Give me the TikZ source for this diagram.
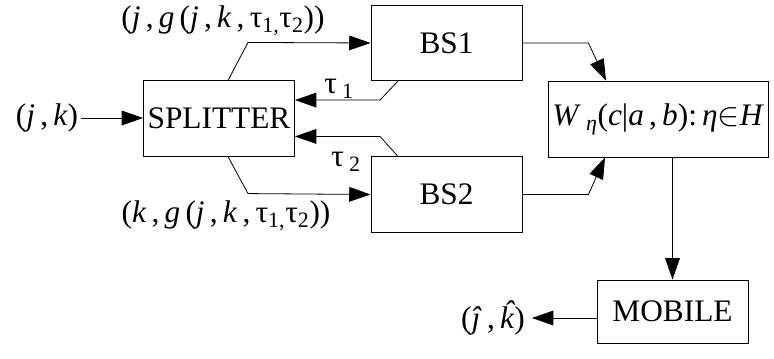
\documentclass[tikz,border=0pt]{standalone}
\usepackage{fontspec}
\setmainfont{Liberation Serif}[ItalicFont = Liberation Serif Italic]
\usetikzlibrary{arrows.meta, calc}

\newcommand{\vi}[1]{\textit{#1}}
\newcommand{\vhat}[1]{\textit{\accent"02C6 #1}}

\begin{document}
\begin{tikzpicture}[x = 0.75pt, y = -0.75pt, line width = 0.6pt,
	> = {Triangle[length = 16pt, width = 11pt]},
	font = \fontsize{23.5}{28}\selectfont,
	box/.style = {draw, minimum width = 113.3pt, minimum height = 56.5pt, inner sep = 0pt}]

	\useasboundingbox (0, 0) rectangle (774, 358);
	\clip (0, 0) rectangle (774, 358);

	% The blocks

	\node [box] (split) at (219, 118.5) {SPLITTER};
	\node [box] (bs1) at (446.5, 43) {BS1};
	\node [box] (bs2) at (446.5, 194.5) {BS2};
	\node [box, anchor = west, minimum width = 0pt, inner xsep = 3pt, minimum height = 57pt] (chan) at (548, 119)
		{\vi{W}\,\textsubscript{\vi{η}}(\vi{c}|\vi{a}\,,\,\vi{b}):\,\vi{η}$\in$\vi{H}\quad};
	\node [box, minimum height = 47.3pt] (mobile) at (672.5, 311.5) {MOBILE};

	% Labels

	\node [inner sep = 2pt] (jk) at (47, 118) {(\vi{j}\,,\,\vi{k})};
	\node [inner sep = 5pt] (est) at (493, 318) {(\vi{ĵ}\,,\,\vhat{k})};
	\node (msg1) at (223, 21) {(\vi{j}\,,\,\vi{g}\,(\vi{j}\,,\,\vi{k}\,,\,τ\textsubscript{1,}τ\textsubscript{2}))};
	\node (msg2) at (226, 216) {(\vi{k}\,,\,\vi{g}\,(\vi{j}\,,\,\vi{k}\,,\,τ\textsubscript{1,}τ\textsubscript{2}))};
	\node (tau1) at (339, 89) {τ\,\textsubscript{1}};
	\node (tau2) at (346, 162) {τ\,\textsubscript{2}};

	% Connectors

	\begin{scope}[->]

		\draw (jk) -- (jk -| split.west);
		\draw ($(split.north) + (9, 0)$) -- ++(20, -38) -- (bs1.west);
		\draw ($(split.south) + (9, 0)$) -- ++(20, 37) -- (bs2.west);
		\draw ($(bs1.south) + (-48.5, 0)$) -- ++(-18, 19) coordinate (t1) -- (t1 -| split.east);
		\draw ($(bs2.north) + (-48.5, 0)$) -- ++(-18, -20) coordinate (t2) -- (t2 -| split.east);
		\draw (bs1.east) -- ++(66, 0) -- ($(chan.north west) + (58, 0)$);
		\draw (bs2.east) -- ++(66, 0) -- ($(chan.south west) + (57, 0)$);
		\draw (chan.south -| mobile.north) -- (mobile.north);
		\draw (mobile.west |- est) -- (est);

	\end{scope}

\end{tikzpicture}
\end{document}
